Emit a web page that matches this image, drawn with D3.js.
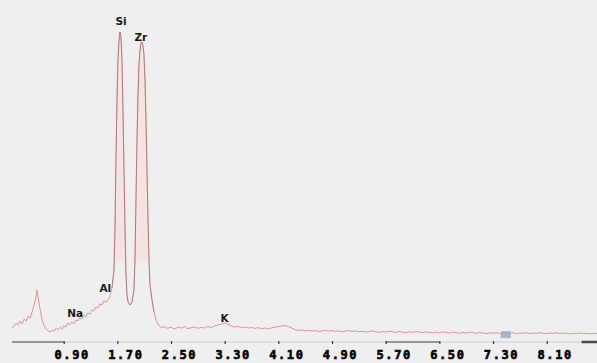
<!DOCTYPE html>
<html>
<head>
<meta charset="utf-8">
<script src="https://cdn.jsdelivr.net/npm/d3@7/dist/d3.min.js"></script>
<style>
  html, body { margin: 0; padding: 0; background: #efefef; }
  svg { display: block; }
</style>
</head>
<body>
<svg id="chart" width="597" height="363"></svg>
<script>
// EDS spectrum: energy (keV) vs counts (arbitrary units)

// low-energy region, below the Si line
const lowEnergy = [0.13,0.16,0.19,0.22,0.25,0.28,0.31,0.34,0.37,0.40,0.43,0.46,0.49,0.50,0.52,0.55,0.58,0.61,0.64,0.67,0.70,0.73,0.76,0.79,0.82,0.85,0.88,0.90,0.93,0.96,0.99,1.02,1.05,1.08,1.11,1.14,1.17,1.20,1.23,1.26,1.29,1.32,1.35,1.38,1.41,1.44,1.47,1.50,1.53];
const lowCounts = [45,52,61,55,68,58,74,68,84,77,97,119,148,168,142,103,71,52,42,35,32,39,35,45,39,48,42,52,48,61,55,65,58,71,68,77,74,87,81,94,90,103,100,113,110,123,119,132,129];

// Si K and Zr L peaks
const peakEnergy = [1.561,1.591,1.620,1.650,1.665,1.680,1.695,1.710,1.725,1.740,1.755,1.769,1.784,1.799,1.814,1.829,1.844,1.859,1.889,1.918,1.948,1.963,1.978,1.993,2.008,2.023,2.038,2.053,2.067,2.082,2.097,2.112,2.127,2.142,2.157,2.172,2.187,2.217,2.246,2.276,2.306];
const peakCounts = [135,148,174,232,361,587,781,910,974,1000,981,910,748,555,361,216,152,129,119,129,168,265,458,652,797,894,942,965,968,955,926,845,716,555,394,265,184,135,97,71,58];

// background from 2.35 keV up, sampled every 0.05 keV
const tailStart = 2.35, tailStep = 0.05;
const tailCounts = [46,50,44,48,42,47,45,50,43,46,49,44,47,45,51,46,52,55,58,62,57,52,48,50,46,49,45,47,44,46,43,45,42,46,48,50,52,53,50,45,40,37,39,36,38,35,37,34,36,38,35,37,34,36,33,35,37,34,36,33,35,32,34,36,33,31,34,32,35,33,31,34,32,30,33,31,34,32,30,33,31,29,32,30,33,31,29,32,30,28,31,29,32,30,28,31,29,27,30,28,30,27,29,31,28,30,27,29,28,30,27,29,28,30,28,27,29,28,30,27,29,28,26,28,27,29,27,28,26,28,27];

// axis ticks (keV)
const tickValues = [0.9,1.7,2.5,3.3,4.1,4.9,5.7,6.5,7.3,8.1];
const tickLabels = ["0.90","1.70","2.50","3.30","4.10","4.90","5.70","6.50","7.30","8.10"];

// element line labels
const elementNames  = ["Na","Al","Si","Zr","K"];
const elementEnergy = [1.07,1.52,1.755,2.05,3.30];
const elementLevel  = [81,161,1023,971,65];

// region-of-interest marker
const markerEnergy = 7.49;
const markerCounts = 22;

const tailEnergy = tailCounts.map((_, i) => +(tailStart + i * tailStep).toFixed(2));
const spectrum = []
  .concat(lowEnergy.map((e, i) => ({ e, c: lowCounts[i] })))
  .concat(peakEnergy.map((e, i) => ({ e, c: peakCounts[i] })))
  .concat(tailEnergy.map((e, i) => ({ e, c: tailCounts[i] })));

const svg = d3.select("#chart");
const W = 597, H = 363;
const axisY = 342;

const x = d3.scaleLinear().domain([0.1, 8.85]).range([10, 597]);
const y = d3.scaleLinear().domain([0, 1000]).range([axisY, 32]);

svg.append("rect").attr("width", W).attr("height", H).attr("fill", "#efefef");

const defs = svg.append("defs");
defs.append("filter").attr("id", "soft")
  .append("feGaussianBlur").attr("stdDeviation", 2.2);
defs.append("filter").attr("id", "soft2")
  .append("feGaussianBlur").attr("stdDeviation", 0.35);

// pale halo inside the upper part of the main peaks
const area = d3.area().x(d => x(d.e)).y0(d => y(Math.min(d.c, 260))).y1(d => y(d.c));
svg.append("path").datum(spectrum.filter(d => d.e >= 1.6 && d.e <= 2.25))
  .attr("d", area)
  .attr("fill", "#f6dede")
  .attr("opacity", 0.75)
  .attr("filter", "url(#soft)");

// x axis baseline
svg.append("line")
  .attr("x1", x(0.13)).attr("x2", W)
  .attr("y1", axisY).attr("y2", axisY)
  .attr("stroke", "#cfcfcf").attr("stroke-width", 1);
const darkSegments = [[0.13, 0.9, 1.2], [5.7, 6.5, 1.2], [8.62, 8.85, 2.5]];
svg.selectAll("line.seg").data(darkSegments).join("line")
  .attr("class", "seg")
  .attr("x1", d => x(d[0])).attr("x2", d => x(d[1]))
  .attr("y1", axisY).attr("y2", axisY)
  .attr("stroke", "#4a4a4a").attr("stroke-width", d => d[2]);

const axis = d3.axisBottom(x)
  .tickValues(tickValues)
  .tickSize(3)
  .tickFormat((d, i) => tickLabels[i]);
const gAxis = svg.append("g").attr("transform", `translate(0,${axisY - 1})`).call(axis);
gAxis.select(".domain").remove();
gAxis.selectAll(".tick line").attr("stroke", "#333").attr("stroke-width", 1.2);
gAxis.selectAll(".tick text")
  .attr("x", 8).attr("y", 10).attr("dy", "0.7em")
  .attr("fill", "#000")
  .attr("stroke", "#000").attr("stroke-width", 0.6)
  .attr("font-family", "'DejaVu Sans Mono', monospace")
  .attr("font-weight", "bold")
  .attr("font-size", 12)
  .attr("letter-spacing", 1.6);

// spectrum trace
const line = d3.line().x(d => x(d.e)).y(d => y(d.c));
svg.append("path").datum(spectrum)
  .attr("d", line)
  .attr("fill", "none")
  .attr("stroke", "#e39292")
  .attr("stroke-width", 1)
  .attr("filter", "url(#soft2)");

// darker trace over the main peaks
svg.append("path").datum(spectrum.filter(d => d.e >= 1.62 && d.e <= 2.26))
  .attr("d", line)
  .attr("fill", "none")
  .attr("stroke", "#7d6060")
  .attr("stroke-width", 0.8)
  .attr("opacity", 0.6)
  .attr("filter", "url(#soft2)");

// region-of-interest marker
svg.append("rect")
  .attr("x", x(markerEnergy) - 5).attr("y", y(markerCounts) - 4)
  .attr("width", 10).attr("height", 7)
  .attr("fill", "#9fb0c4").attr("opacity", 0.85)
  .attr("filter", "url(#soft2)");

// element labels
svg.selectAll("text.el").data(elementNames).join("text")
  .attr("class", "el")
  .attr("x", (d, i) => x(elementEnergy[i]))
  .attr("y", (d, i) => y(elementLevel[i]))
  .attr("text-anchor", "middle")
  .attr("font-family", "'DejaVu Sans', sans-serif")
  .attr("font-weight", "bold")
  .attr("font-size", 10.5)
  .attr("fill", "#1a1a1a")
  .text(d => d);
</script>
</body>
</html>
